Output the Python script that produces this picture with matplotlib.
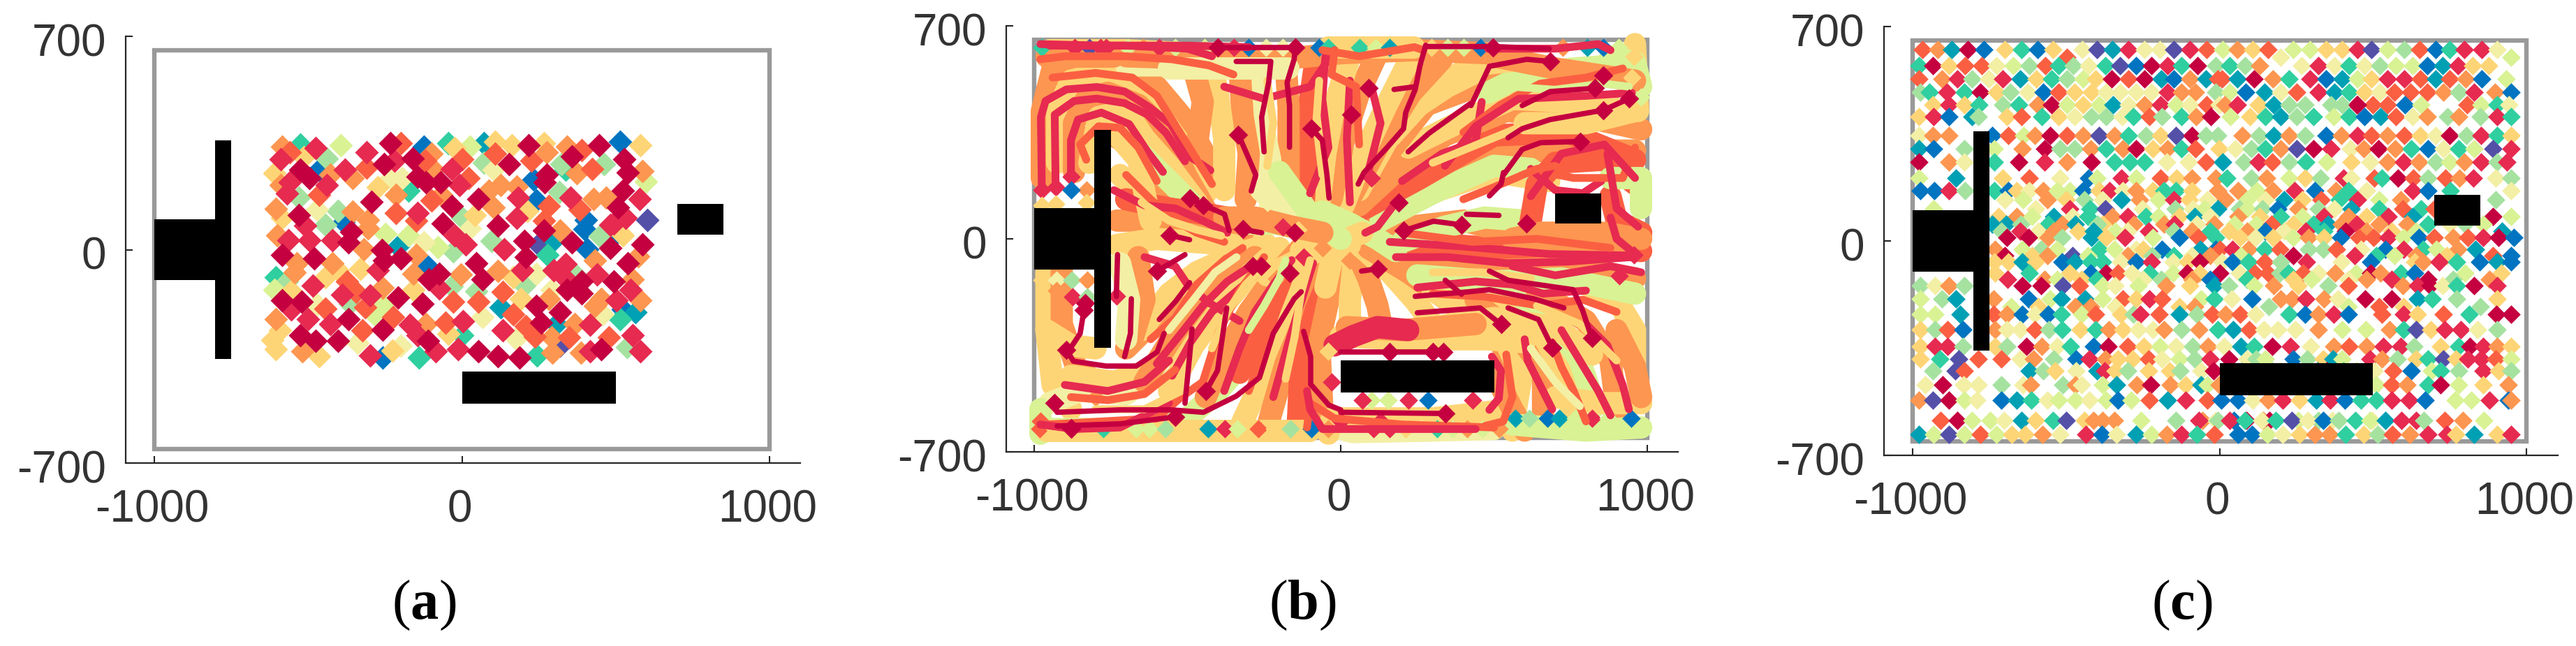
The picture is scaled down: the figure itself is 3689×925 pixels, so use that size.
import matplotlib
matplotlib.use("Agg")
import matplotlib.pyplot as plt
from matplotlib.patches import Rectangle
from matplotlib.transforms import ScaledTranslation

plt.rcParams['font.family'] = ['Liberation Sans', 'DejaVu Sans']
plt.rcParams['axes.unicode_minus'] = False
plt.rcParams['mathtext.fontset'] = 'custom'
plt.rcParams['mathtext.bf'] = 'Liberation Serif:bold'
plt.rcParams['mathtext.rm'] = 'Liberation Serif'

# ---------- data ----------
CLASS_COLORS = {'c': '#c40040', 'r': '#e62a50', 'o': '#fb5f42', 'O': '#fd9650', 'y': '#fed576',
                'l': '#f3efa5', 'g': '#d9f294', 'G': '#a5e2a0', 't': '#2fcfa0', 'b': '#00a0b4',
                'B': '#0074c0', 'p': '#5450a8'}
DRAW_ORDER = "pBbtGglyOorc"
X_TICKS = [-1000, 0, 1000]
Y_TICKS = [-700, 0, 700]
T_STEM = (-1000, -100, 200, 200)
T_BAR = (-803, -358, 53, 716)
BOX = (700, 50, 150, 100)
BAR = (0, -505, 500, 105)
FRAME = (-1000, -655, 2000, 1310)

# panel (a): particles at the initial position (x, y, colour class)
A_POINTS = [
(-584,338,'O'),(-559,319,'o'),(-526,345,'t'),(-476,334,'r'),(-393,342,'g'),(-310,319,'r'),(-232,349,'c'),(-198,349,'o'),(-124,338,'B'),(-99,315,'O'),(-45,349,'t'),(-24,334,'y'),(25,338,'g'),(71,349,'b'),(108,353,'y'),(108,315,'o'),(162,342,'y'),(216,342,'c'),(266,349,'y'),(275,319,'O'),(341,338,'O'),(357,307,'c'),(390,326,'o'),(445,342,'c'),(515,353,'B'),(581,342,'y'),
(-588,296,'r'),(-514,304,'y'),(-464,262,'B'),(-439,300,'G'),(-381,262,'r'),(-310,269,'o'),(-252,281,'c'),(-219,292,'r'),(-161,300,'c'),(-120,292,'o'),(-91,262,'O'),(-33,265,'r'),(1,296,'o'),(71,285,'G'),(104,262,'l'),(154,281,'c'),(225,292,'o'),(275,246,'c'),(324,281,'G'),(337,262,'t'),(374,250,'O'),(424,265,'o'),(461,281,'G'),(527,296,'c'),(540,254,'c'),(586,258,'O'),
(-609,250,'y'),(-526,262,'c'),(-497,235,'c'),(-427,246,'O'),(-356,235,'O'),(-232,235,'l'),(-194,235,'l'),(-144,239,'c'),(-116,220,'c'),(-70,220,'c'),(21,235,'o'),(-8,212,'r'),(125,212,'O'),(179,208,'O'),(233,231,'B'),(270,220,'c'),(598,223,'g'),
(-559,220,'r'),(-439,212,'r'),(-464,181,'o'),(-568,185,'r'),(-588,212,'O'),(-530,170,'G'),(-273,204,'y'),(-215,181,'O'),(-174,193,'t'),(-99,162,'o'),(-33,143,'c'),(-66,181,'O'),(54,166,'c'),(88,193,'O'),(183,170,'r'),(241,162,'B'),(353,170,'r'),(428,166,'O'),(523,193,'c'),(577,166,'r'),(316,189,'G'),
(-605,135,'O'),(-294,158,'c'),(-472,132,'l'),(-402,128,'G'),(-356,124,'O'),(-215,120,'o'),(-144,120,'r'),(-306,97,'O'),(-530,113,'c'),(104,139,'O'),(42,113,'y'),(179,105,'r'),(212,128,'y'),(283,143,'o'),(382,132,'o'),(507,139,'c'),(469,170,'O'),
(-584,105,'y'),(-510,78,'r'),(-443,82,'G'),(-385,90,'B'),(-360,59,'c'),(-369,25,'c'),(-306,71,'O'),(-149,94,'o'),(-62,86,'c'),(-24,48,'r'),(117,78,'c'),(1,105,'G'),(266,94,'o'),(266,63,'c'),(320,63,'O'),(403,97,'B'),(399,67,'B'),(494,86,'r'),(532,105,'r'),(482,82,'r'),(602,97,'p'),
(-563,32,'r'),(-601,48,'O'),(-497,32,'r'),(-422,32,'r'),(-248,52,'g'),(-174,48,'g'),(-124,25,'l'),(-78,9,'g'),(13,17,'r'),(25,71,'l'),(96,29,'G'),(204,29,'c'),(249,17,'p'),(299,32,'b'),(357,25,'c'),(449,44,'G'),(490,40,'B'),(523,48,'y'),(586,17,'c'),
(-584,-17,'c'),(-480,-29,'c'),(-538,-44,'O'),(-422,-44,'O'),(-319,2,'O'),(-261,-2,'c'),(-252,-36,'c'),(-198,-29,'c'),(-207,10,'b'),(-149,-17,'O'),(-28,-6,'G'),(46,-44,'c'),(208,-25,'c'),(137,2,'r'),(278,-17,'t'),(336,-48,'r'),(407,2,'B'),(432,-36,'O'),(482,6,'c'),(539,-44,'c'),(573,-21,'O'),
(-543,-75,'O'),(-402,-67,'y'),(-331,-63,'y'),(-273,-67,'r'),(-157,-78,'O'),(-111,-56,'B'),(-74,-78,'c'),(-107,-97,'c'),(-4,-82,'O'),(117,-71,'O'),(196,-67,'r'),(241,-78,'l'),(299,-67,'r'),(370,-82,'G'),(494,-105,'c'),(440,-82,'r'),(556,-97,'O'),
(-605,-90,'t'),(-568,-105,'G'),(-485,-117,'r'),(-443,-90,'y'),(-373,-105,'o'),(-74,-128,'r'),(-33,-120,'G'),(67,-97,'c'),(167,-90,'y'),(204,-117,'G'),(332,-90,'r'),(390,-105,'c'),(341,-132,'c'),(390,-143,'c'),
(-609,-132,'g'),(-555,-136,'y'),(-389,-147,'r'),(-344,-139,'o'),(-298,-151,'r'),(-257,-124,'O'),(-157,-132,'y'),(-207,-158,'c'),(-128,-178,'c'),(-28,-170,'o'),(46,-136,'G'),(133,-139,'o'),(291,-132,'l'),(191,-162,'y'),(283,-162,'O'),(453,-162,'O'),(548,-132,'r'),(581,-166,'O'),
(-584,-166,'c'),(-522,-170,'c'),(-555,-197,'r'),(-443,-193,'o'),(-364,-178,'G'),(-315,-189,'o'),(-472,-181,'l'),(-257,-181,'g'),(54,-170,'o'),(125,-189,'b'),(241,-185,'c'),(320,-204,'c'),(432,-185,'O'),(502,-166,'r'),(523,-197,'B'),(565,-204,'b'),
(-605,-227,'O'),(-501,-227,'r'),(-427,-243,'r'),(-369,-227,'c'),(-323,-265,'o'),(-286,-212,'g'),(-257,-262,'c'),(-223,-220,'o'),(-169,-246,'r'),(-116,-243,'O'),(-53,-239,'o'),(4,-235,'r'),(67,-220,'l'),(167,-212,'o'),(258,-239,'c'),(208,-250,'o'),(307,-243,'b'),(366,-243,'O'),(416,-246,'r'),(515,-227,'t'),(457,-212,'l'),
(-592,-265,'y'),(-526,-281,'c'),(-476,-300,'c'),(-402,-300,'c'),(-339,-307,'l'),(-617,-296,'y'),(-45,-277,'y'),(-144,-281,'r'),(-111,-300,'c'),(1,-281,'t'),(133,-265,'r'),(175,-292,'l'),(237,-285,'o'),(349,-288,'o'),(478,-288,'o'),(556,-281,'r'),(291,-288,'O'),
(-605,-326,'y'),(-518,-334,'O'),(-464,-349,'y'),(-298,-346,'r'),(-227,-330,'y'),(-198,-315,'l'),(-140,-353,'t'),(-86,-334,'r'),(-12,-326,'r'),(54,-334,'c'),(117,-349,'c'),(187,-353,'c'),(245,-346,'t'),(295,-338,'O'),(320,-315,'p'),(386,-338,'O'),(416,-334,'r'),(453,-326,'c'),(536,-319,'G'),(581,-334,'r'),
(-257,-353,'B')]

# panel (c): particles after the final step, one row per y level
C_ROWS = [
(624, [-968,-917,-872,-821,-768,-699,-645,-593,-542,-447,-400,-349,-297,-244,-195,-149,-96,-43,10,59,108,157,241,294,347,400,450,495,548,601,651,704,749,798,855,905],
      "oObcBytByl"+"prt"[0]+"brllpro"+"gOyogg"+"yyrp"+"gGoBtrrl"),
(600, [-498,199,950], "olg"),
(572, [-980,-933,-882,-829,-775,-726,-673,-620,-567,-525,-476,-427,-373,-324,-273,-222,-169,-123,-71,-13,32,82,131,267,321,374,423,472,522,575,628,677,726,776,825,878], "tcyoolgGotGltpBcrtcGtGOlrltlGggBbryy"),
(530, [-980,-904,-855,-806,-753,-707,-650,-597,-548,-498,-445,-404,-351,-297,-244,-191,-149,-96,-44,-5,9,59,112,173,226,294,347,400,449,495,548,601,654,704,749,802,855,935], "oOrGlrbytGgycocbBOboobcOtrBbgyrroboOBg"),
(485, [-976,-946,-889,-832,-779,-726,-681,-624,-574,-525,-472,-417,-370,-324,-271,-222,-169,-123,-78,-13,32,85,146,199,252,321,374,423,472,522,571,622,677,730,780,830,897,950], "GtrtcyGlBoyyllllrOOGgBblorbtyloooOGrOBOy"),
(445, [-935,-882,-832,-783,-707,-654,-593,-548,-498,-445,-392,-347,-297,-244,-192,-143,-96,-43,-1,17,59,127,176,226,278,362,446,400,500,450,548,604,657,806,852,905,943], "yrytGtOcgygblOrglolOrybGGGcGocoBgogtllcB"),
(405, [-980,-931,-882,-807,-787,-692,-644,-578,-525,-472,-418,-370,-318,-280,-228,-188,-124,-77,-28,35,100,148,199,252,305,372,423,472,524,574,630,677,743,780,850,905,950], "yrBbGyotylGGltoGtOcgytbGtgtBbolOGOGrtG"[:37]),
(345, [-980,-935,-882,-740,-688,-639,-601,-551,-498,-445,-392,-342,-297,-240,-193,-142,-90,-45,-5,74,128,176,226,279,347,396,449,495,548,601,654,704,749,805,852,905,950], "lOOBogOcoOpOtGypcGGOGbOGBOroOoylcGrty"),
(300, [-980,-931,-832,-734,-643,-571,-521,-472,-419,-370,-316,-271,-218,-169,-123,-78,-2,51,104,150,199,252,305,362,426,470,518,572,625,680,730,780,830,890,950], "bBGgOcGGOtOcyOtoylGtOpcrlOcOtBltgprtyt"[:35]),
(258, [-980,-882,-832,-734,-655,-570,-497,-418,-342,-293,-244,-172,-101,-44,11,78,127,172,226,282,350,428,490,548,600,649,704,749,798,852,905,937], "cOltcrOctttllobGroGtgylOrOGgOrGrryo"[:32]),
(205, [-980,-860,-707,-620,-521,-427,-400,-319,-271,-193,-139,-90,-13,25,104,154,226,279,328,404,430,505,528,582,631,680,735,782,826,899,950], "gbyolBgrgoyOOtGOgyGrlotcoGoOrlGlo"[:31]),
(165, [-930,-976,-882,-829,-734,-688,-662,-619,-574,-529,-488,-445,-392,-358,-316,-271,-218,-182,-143,-89,-5,60,121,173,244,310,378,420,480,630,680,753,950], "BBrGtBylOggByrlOyttyO"[:21]+"OgOrBOtlrBtl"),
(135, [-700,-640,-560,-500,-440,-380,-320,-260,-200,-150,-100,-40,20,90,150,210,270,330,390,450,520,590,900], "lgOyGlbOgrylOglbyotrgOG"),
(105, [-931,-600,-489,-422,-373,-252,-145,-88,-48,-5,64,90,139,189,257,322,374,430,520,597,656,700,760], "glrtplGlgbGgGBOGlbtotoG"),
(80, [-720,-660,-610,-540,-480,-430,-350,-300,-240,-200,-130,-80,-30,60,130,200,270,340,420,480,550,630,890,950], "yOgbltOrtgyblOytgrOyrbcg"),
(55, [-740,-694,-647,-558,-513,-470,-382,-398,-278,-180,-146,-73,-18,48,120,170,240,305,353,397,447,520,610,680,750,800,860], "bbGtObyGOOrlOggoytbOrOOtlGg"),
(32, [-710,-650,-590,-540,-460,-410,-340,-300,-230,-150,-90,-30,30,90,150,210,280,340,410,480,560,640,920], "GrlOybglrGOtyOBlrtcOygb"),
(12, [-692,-622,-559,-512,-418,-370,-308,-217,-130,-70,-12,66,117,173,240,290,340,394,455,502,550,600,650,700,760,810,860,910,960], "ccOGbyrgBotylygOyBoorgBoOorcBG"[:29]),
(-28, [-732,-642,-581,-530,-392,-342,-272,-250,-187,-63,-13,0,42,95,147,196,290,337,380,461,540,600,664,706,777,833,875], "OgGgtglyBbBorOtoGGolBrtgOb"[:27]+""),
(-48, [-700,-610,-560,-480,-430,-300,-220,-150,-90,-30,70,240,440,510,570,640,740,890,950], "cyOpgOGtlOgcrtgOyoB"),
(-68, [-733,-688,-642,-600,-512,-472,-420,-382,-322,-272,-222,-152,-103,-64,9,42,95,147,198,284,396,492,635,663,716,772,847,905,950], "yybyBbttlBrlyclBtoGrlByOrtBbB"[:29]),
(-105, [-732,-620,-489,-420,-370,-331,-285,-228,-152,-105,-64,2,64,115,157,197,223,273,322,376,445,492,525,590,636,800,917,980], "ytyBcoltgcycl"[:13]+"ooGtolOgcOtBgy"),
(-125, [-690,-570,-530,-450,-400,-250,-190,-90,-30,90,240,300,420,480,560,680,760,880], "rOgytlGOBtyglOrcGO"),
(-145, [-976,-927,-882,-832,-642,-581,-510,-457,-382,-340,-265,-173,-97,-18,30,112,177,255,353,420,597,646,685,728,773,830,905,951], "GlOGccpoglgOybGgOyGoOrcltcr"[:28]),
(-190, [-976,-905,-860,-736,-622,-551,-515,-438,-380,-316,-272,-228,-188,-61,-17,40,105,200,235,280,340,386,475,562,646,692,773,905,950], "gGbOBgbbgoyrogtlBOOrOlccbtGy"[:29]),
(-215, [-680,-590,-470,-420,-340,-130,-80,160,420,520,600,850], "gyOOlyOGgoyG"),
(-240, [-976,-927,-846,-736,-692,-643,-602,-559,-516,-450,-404,-322,-280,-258,-196,-130,-75,-25,20,66,118,226,279,323,372,419,530,600,645,729,813,902,950], "ggboOBlBtgoyGrobGoOoltBOrBoryotcc"),
(-290, [-976,-927,-887,-836,-732,-692,-650,-601,-557,-514,-455,-404,-360,-314,-265,-218,-180,-123,-68,-6,44,96,144,190,247,322,400,476,555,600,640,688,734,786,840,904,950], "yGoBOlloGtytOyllOGOtbo"+"lllOggOtpyrrlG"),
(-345, [-976,-927,-887,-836,-731,-692,-630,-580,-530,-486,-410,-362,-300,-247,-194,-142,-88,-38,14,70,113,172,232,298,371,422,478,533,590,634,720,780,816,860,905,950], "yrrGyGcOltBcoyg"+"lGOlbtcrlOoOrrGytcrOy"),
(-385, [-976,-911,-850,-785,-710,-650,-606,-540,-468,-424,-373,-331,-283,-230,-188,-130,-80,-30,30,90,120,150,240,285,337,370,400,490,530,580,640,680,730,770,810,852,900,950], "ytpoolOGBrOyyolgGrclGgBGybgrOGytpyrrog"),
(-425, [-935,-862,-832,-620,-575,-535,-468,-400,-375,-340,-300,-230,-162,-128,-60,-20,72,130,172,196,320,350,403,447,505,565,625,690,720,780,860,910,950], "Gp"+"obGylbryGyyGlcGgGlbctgloBgtGryGl"),
(-470, [-960,-902,-833,-785,-710,-640,-615,-510,-470,-450,-380,-335,-270,-225,-160,-110,-60,-40,-1,50,90,130,155,340,400,455,510,560,610,680,720,780,860,940], "lcllGlOGOlgbOcOybgOBgoGolcgoOtcgyO"),
(-520, [-980,-934,-882,-832,-790,-712,-660,-614,-561,-524,-470,-425,-370,-332,-288,-228,-170,-110,-40,6,60,108,157,207,260,315,360,408,461,510,560,618,670,768,820,880,940,950], "OpcglBbtlgglgBgobro"+"BBlOrybrBttrrBggrBO"),
(-585, [-909,-854,-806,-748,-703,-646,-600,-542,-500,-440,-410,-380,-343,-256,-143,-55,-13,47,88,143,163,257,322,368,497,-68,-5,34,82,137,184,236,288,337,387,442,490,540,593,640,665,734,792,862,908,947], "ocgglbytpyOOOgGOlBcOc"+"gGll"+"rGrtltplBGtgbrrGoOg"),
(-632, [-980,-931,-882,-832,-780,-728,-676,-634,-576,-521,-436,-383,-335,-271,-222,-172,-123,-75,-16,60,105,156,207,260,310,358,410,470,515,564,620,680,740,770,830,905,949], "bgpgogyyOlrBlbgOrtoBBglyOO"+"tyGoOrryb"+"yrr"),
]

# panel (b): wide background bands, then mid and thin trajectories, then end markers
B_WIDE = [
('O',[-975,-975,-940,-800,-700,-600,-500,-400],[200,420,560,600,570,500,380,200]),
('y',[-925,-925,-880,-780,-680,-600,-520,-440],[250,420,520,545,500,420,310,150]),
('O',[-870,-870,-830,-760,-660,-580,-500,-420],[220,380,460,480,440,360,200,60]),
('y',[-820,-790,-700,-640,-560,-470],[250,400,420,330,240,120]),
('O',[-740,-680,-620,-560,-480,-400],[340,300,220,120,60,20]),
('g',[-650,-560,-480,-370],[280,190,110,40]),
('y',[-720,-630,-520,-400,-300],[210,120,80,60,30]),
('O',[-730,-600,-440,-320],[60,60,40,20]),
('y',[-730,-600,-480,-350],[-20,0,-10,-20]),
('o',[-700,-560,-430,-260],[130,100,80,50]),
('y',[-960,-960,-940,-880],[-110,-300,-480,-560]),
('O',[-910,-910,-860,-760],[-100,-280,-430,-490]),
('l',[-950,-850,-700,-600],[-540,-500,-510,-440]),
('y',[-880,-740,-620,-500,-420],[-450,-470,-430,-300,-180]),
('O',[-700,-600,-500,-380,-300],[-360,-260,-180,-110,-50]),
('y',[-650,-560,-470,-340,-240],[-300,-180,-110,-50,-20]),
('O',[-640,-560,-480,-380,-280],[-470,-340,-230,-130,-60]),
('g',[-950,-700,-500,-400,-330],[-625,-625,-590,-500,-420]),
('y',[-560,-480,-400,-300,-200],[-500,-350,-240,-120,-30]),
('O',[-440,-380,-300,-220,-130],[-520,-380,-240,-130,-30]),
('o',[-330,-260,-200,-130],[-440,-300,-180,-70]),
('y',[-320,-240,-150,-70],[-600,-430,-200,-40]),
('O',[-240,-180,-100,-40],[-620,-410,-220,-60]),
('o',[-140,-130,-80,-20],[-610,-400,-230,-90]),
('O',[-60,-70,-40,0],[-560,-340,-200,-80]),
('y',[30,30,40,50],[-300,-200,-100,-20]),
('O',[140,120,90,50],[-320,-220,-130,-40]),
('y',[330,240,160,60],[-320,-200,-110,-20]),
('O',[560,500,360,220,90],[-420,-300,-210,-110,-30]),
('y',[560,590,520,400,300],[-630,-450,-300,-230,-170]),
('O',[660,660,560,440],[-600,-430,-290,-200]),
('y',[760,720,640,520],[-590,-430,-280,-180]),
('g',[830,780,700,600],[-550,-400,-280,-200]),
('O',[900,880,800,640],[-560,-400,-270,-170]),
('y',[960,960,900,760,620],[-420,-300,-200,-130,-90]),
('y',[300,500,700,820],[-290,-260,-290,-380]),
('l',[0,40,300,500],[-625,-635,-630,-625]),
('O',[200,500,700,960],[-90,-80,-80,-130]),
('g',[250,500,720,960],[-120,-140,-130,-180]),
('o',[200,500,760,980],[-10,-30,-20,-40]),
('O',[140,400,660,900,980],[30,60,-10,-30,20]),
('y',[140,320,500,680],[80,160,220,190]),
('O',[110,300,480,660,960],[70,180,270,290,290]),
('g',[130,300,500,620],[60,150,240,230]),
('o',[60,260,500,740,960],[90,200,340,350,260]),
('O',[60,200,340,540,800,980],[110,240,340,420,400,360]),
('y',[220,400,560,760,880],[300,390,460,450,440]),
('O',[40,170,280,440,620,900],[120,300,440,500,520,560]),
('g',[480,600,760,900],[480,540,560,570]),
('y',[60,160,280,430,600],[160,340,480,570,590]),
('O',[40,130,230,330],[150,320,480,590]),
('y',[10,80,150,230],[110,290,440,600]),
('O',[-30,10,60,120],[130,320,480,610]),
('y',[-70,-50,-20,30],[110,280,440,600]),
('o',[-120,-110,-100,-80],[130,300,460,600]),
('O',[-170,-170,-170,-180],[120,300,430,590]),
('l',[-230,-230,-260,-280],[100,260,400,570]),
('O',[-310,-300,-320,-330],[130,280,400,560]),
('y',[-380,-380,-400,-420],[160,330,470,580]),
('O',[-470,-450,-480],[300,450,560]),
('l',[-700,-560,-450,-350],[570,570,560,560]),
('l',[-260,-160,-60,20],[160,70,20,-30]),
('g',[-310,-210,-120,-30],[50,50,30,0]),
('y',[-240,-140,-50,20],[-120,-70,-30,10]),
('g',[-60,30,120,180],[90,50,0,-40]),
('y',[-50,-30,30],[-160,-70,-20]),
('y',[-130,-50,0,70],[-40,-20,-10,20]),
('g',[200,340,470,600],[-10,40,70,60]),
('o',[880,900,980],[140,60,20]),
('y',[960,970],[640,420]),
('g',[880,960,980],[600,580,500]),
('g',[-980,-980],[-640,-560]),
('y',[-960,-650,-300,-100],[-630,-630,-630,-630]),
('y',[-40,-30,30,300,560],[-640,-590,-590,-590,-560]),
('y',[-950,-700,-500,-380],[620,620,610,600]),
('O',[-700,-400,-200,0,240,480],[600,590,590,610,620,610]),
('y',[-40,120,240],[630,630,630]),
('o',[620,640,700,860,960],[60,180,250,260,180]),
('O',[560,650,860,980],[0,20,20,0]),
('g',[880,980,980],[200,200,100]),
('y',[600,800,960],[380,380,420]),
('O',[500,700,960],[600,560,520]),
('y',[-720,-660,-640,-620],[330,260,150,60]),
('O',[-660,-640,-680],[-60,-200,-330]),
('l',[-720,-690,-700],[-80,-200,-330]),
('O',[-960,-860,-740],[600,600,600]),
('y',[-960,-880,-800],[-300,-350,-360]),
('y',[0,200,480,600],[-320,-330,-330,-340]),
('O',[20,200,440],[-290,-300,-280]),
('r',[-20,40,120,220],[-350,-320,-290,-300]),
('O',[500,560,600],[-440,-560,-630]),
('g',[560,800,980],[-610,-630,-620]),
('y',[700,850,980],[-520,-540,-540]),
('O',[900,960,980],[-300,-420,-520]),
('g',[-200,-100,0],[220,80,0]),
('l',[-560,-420,-300,-170],[560,560,560,560]),
('O',[-380,-280,-160,-60],[70,70,40,20]),
]
B_MID = [
('r',[-975,-978,-963,-895,-796,-705,-622,-554,-493,-425],[156,400,453,491,499,484,431,377,271,225]),
('r',[-930,-933,-870,-796,-705,-630,-569,-508],[175,408,453,461,446,408,347,255]),
('r',[-880,-880,-857,-781,-690,-630,-580],[210,324,392,415,377,286,220]),
('o',[-830,-850,-790,-720,-660,-600],[260,310,370,365,300,190]),
('o',[-700,-620,-540,-470,-380],[210,130,60,20,-10]),
('r',[-740,-640,-540,-450,-370],[160,110,100,60,20]),
('o',[-980,-900,-700,-550,-430,-350],[590,600,600,590,570,540]),
('r',[-950,-700,-500,-420],[635,635,625,600]),
('o',[-940,-800,-680,-600,-500,-420],[530,545,530,470,310,180]),
('r',[-640,-540,-500,-430,-330],[-60,-90,-150,-210,-270]),
('o',[-620,-540,-470,-380,-320],[-330,-260,-150,-70,-30]),
('r',[-600,-520,-450,-370,-310],[-410,-310,-220,-140,-100]),
('r',[-550,-490,-420,-350,-280],[-450,-340,-240,-180,-120]),
('o',[-450,-400,-330,-250],[-470,-310,-170,-60]),
('r',[-380,-330,-280,-220,-160],[-500,-360,-240,-150,-70]),
('o',[-300,-250,-210,-160],[-500,-360,-240,-110]),
('r',[-220,-170,-130,-90],[-520,-340,-210,-80]),
('o',[-950,-780,-600,-520,-450],[-610,-600,-590,-520,-470]),
('r',[-980,-870,-720,-560],[-610,-625,-620,-540]),
('r',[-900,-760,-640,-560],[-480,-500,-470,-400]),
('o',[-880,-760,-640,-540],[-520,-530,-510,-430]),
('o',[-110,-100,-20,200,500],[-620,-540,-590,-610,-620]),
('r',[-110,-100,-60,180,440],[-500,-560,-625,-625,-625]),
('r',[493,523,516,485],[-387,-433,-524,-562]),
('o',[540,560,530,470],[-380,-520,-600,-615]),
('r',[600,610,660,690],[-330,-400,-500,-560]),
('o',[690,720,760,800],[-340,-420,-500,-600]),
('r',[720,780,840,880],[-300,-400,-500,-580]),
('r',[800,870,920,940],[-280,-350,-480,-560]),
('r',[250,440,560,660,800],[-160,-140,-150,-180,-170]),
('o',[300,470,650,790,900],[-180,-190,-220,-200,-240]),
('r',[180,350,540,740,950],[-60,-60,-80,-75,-60]),
('r',[160,400,680,960],[-10,-25,-50,-55]),
('o',[200,430,640,880],[20,-10,0,-30]),
('r',[560,700,880,980],[-90,-120,-90,-110]),
('r',[620,700,790,850],[230,160,150,190]),
('o',[660,760,920,960],[220,200,200,300]),
('r',[620,720,860,960],[140,280,310,200]),
('r',[870,900,970],[280,100,40]),
('r',[880,900,960],[70,0,-50]),
('o',[400,500,640,700],[130,170,230,240]),
('r',[-380,-250,-100,-20],[500,460,500,620]),
('r',[-100,-40,-60,-50],[150,300,460,600]),
('r',[30,20,30],[120,330,520]),
('o',[-20,-30,50,60],[620,540,500,310]),
('r',[100,130,90],[500,380,220]),
('r',[180,120,80],[120,40,20]),
('r',[200,330,440,460],[190,280,320,450]),
('o',[400,520,650,800,920],[350,440,510,530,560]),
('r',[340,440,580,800,950],[240,370,460,470,480]),
('r',[-980,-780,-500,-300],[640,635,635,630]),
('o',[-60,60,240,270],[620,600,630,620]),
('r',[480,700,840,880],[625,625,640,620]),
('y',[-650,-560,-470,-390],[120,60,30,10]),
('l',[-560,-480,-410,-340],[-300,-200,-110,-60]),
('y',[-420,-370,-310,-250],[-360,-240,-150,-90]),
('g',[-300,-250,-200,-180],[-300,-220,-130,-70]),
('y',[-180,-150,-130,-100],[-460,-320,-180,-70]),
('y',[-240,-220,-240],[520,380,240]),
('y',[-70,-80,-60],[520,380,210]),
('y',[180,270,360,460],[320,420,480,530]),
('y',[300,470,640,800],[250,320,390,380]),
('g',[560,700,860,940],[500,490,510,500]),
('y',[640,780,900],[-220,-280,-400]),
('y',[300,460,620],[-110,-110,-130]),
('l',[620,700,780],[-360,-470,-550]),
('y',[-800,-640,-520],[-560,-560,-500]),
]
B_THIN = [
([-402,-243,-160],[628,628,628]),
([277,497,680],[632,632,625]),
([-341,-228,-235,-258,-250],[583,583,514,400,286]),
([-148,-152,-175,-167,-167],[628,590,514,438,301]),
([-95,-60,-45,-38],[362,324,210,134]),
([-334,-303,-277,-292],[343,271,210,157]),
([-493,-448,-379,-364],[134,111,81,27]),
([-558,-493],[12,-3]),
([-319,-258],[31,20]),
([277,258,243,212,205,152,76,57],[636,567,491,415,362,301,218,180]),
([425,485,607,683],[438,567,590,583]),
([425,288,220],[446,347,286]),
([531,592,652,781],[210,294,316,320]),
([546,592,683,857],[332,362,392,423]),
([485,523,531],[141,180,218]),
([592,683,830],[438,484,495]),
([857,941],[423,461]),
([174,235],[491,499]),
([205,303,394],[27,58,46]),
([410,516],[81,77]),
([-895,-872,-766,-667,-599,-576],[-364,-402,-418,-418,-372,-311]),
([-592,-538,-493],[-265,-205,-144]),
([-834,-850,-880],[-212,-311,-357]),
([-732,-728],[-189,-52]),
([-933,-925,-720,-554,-448,-341,-265,-220,-152,-129],[-539,-570,-562,-562,-570,-517,-456,-311,-197,-174]),
([-925,-720,-539],[-615,-608,-585]),
([-683,-686,-705],[-197,-311,-387]),
([-440,-402,-372],[-501,-433,-227]),
([-485,-493,-508],[-296,-387,-540]),
([-599,-508],[-106,-52]),
([-121,-98,-98,-38,0],[-304,-387,-478,-547,-562]),
([0,341],[-570,-574]),
([0,334],[-372,-372]),
([250,455,523],[-243,-227,-281]),
([243,417,485,630,728],[-189,-174,-167,-197,-227]),
([485,546,758,789,819],[-106,-136,-167,-235,-326]),
([546,645,690],[-227,-265,-357]),
([68,121],[-106,-98]),
([341,394],[-136,-182]),
]
# end markers of long trajectories and markers left on the free border (x, y, colour class)
B_MARKERS = [
(-975,628,'t'),(-869,628,'r'),(-819,628,'p'),(-766,628,'r'),(-694,628,'g'),(-645,628,'O'),(-592,628,'r'),(-539,628,'g'),(-444,628,'g'),(-784,628,'r'),(-349,628,'r'),(-300,628,'B'),(-244,628,'l'),(-190,628,'l'),(-71,628,'B'),(-42,628,'t'),
(61,628,'t'),(114,628,'g'),(159,628,'b'),(247,628,'y'),(296,628,'y'),(349,628,'g'),(402,628,'g'),(455,628,'B'),(725,628,'O'),(804,628,'b'),(857,628,'B'),(906,628,'g'),(957,600,'y'),(950,530,'y'),(980,465,'g'),
(-982,-625,'o'),(-933,-625,'y'),(-880,-625,'c'),(-827,-625,'y'),(-774,-625,'t'),(-720,-625,'y'),(-667,-625,'g'),(-625,-625,'g'),(-572,-625,'G'),(-520,-625,'y'),(-432,-625,'b'),(-379,-625,'r'),(-337,-625,'g'),(-269,-625,'o'),(-216,-625,'y'),(-163,-625,'G'),(-95,-625,'B'),(-42,-625,'O'),
(106,-625,'r'),(159,-625,'r'),(212,-625,'y'),(262,-625,'l'),(315,-625,'t'),(364,-625,'g'),(413,-625,'O'),(463,-625,'g'),(516,-625,'O'),(569,-590,'b'),(614,-590,'G'),(675,-590,'B'),(713,-590,'b'),(766,-590,'g'),(819,-590,'r'),(872,-590,'g'),(948,-590,'B'),
(-975,160,'r'),(-930,170,'r'),(-880,205,'r'),(-830,160,'O'),(-975,110,'y'),(-930,115,'y'),(-880,160,'B'),(-830,120,'y'),
(-975,-135,'y'),(-927,-135,'l'),(-877,-135,'G'),(-828,-135,'O'),(-928,-170,'O'),(-875,-190,'r'),(-828,-190,'G'),(-838,-235,'c'),
(-402,628,'c'),(-148,628,'c'),(497,628,'c'),(683,583,'c'),(781,320,'c'),(857,423,'c'),(830,495,'c'),(941,461,'c'),(857,537,'c'),(91,495,'c'),(34,408,'c'),(190,119,'c'),(205,27,'c'),(394,46,'c'),(607,50,'c'),
(-334,343,'c'),(-95,362,'c'),(-493,134,'c'),(-448,111,'c'),(-558,12,'c'),(-319,31,'c'),(-732,-189,'r'),(-834,-212,'c'),(-895,-364,'c'),(-933,-539,'c'),(-880,-623,'c'),(-599,-106,'c'),(-440,-501,'c'),(-288,-90,'c'),(-167,-113,'c'),(-539,-585,'c'),
(341,-574,'c'),(160,-372,'c'),(300,-372,'c'),(334,-372,'c'),(523,-281,'c'),(819,-326,'c'),(690,-357,'c'),(121,-98,'c'),(956,-52,'r'),(910,-121,'r'),(-980,-600,'o'),(-800,-520,'O'),
(0,-600,'r'),(130,-600,'r'),(-30,-470,'r'),(30,-470,'l'),
(-240,120,'l'),(-140,30,'y'),(-60,-30,'O'),(30,-70,'O'),(-40,-370,'y'),(-380,-80,'O'),(-210,-130,'O'),(-120,-60,'r'),(-260,-90,'c'),(100,200,'r'),(-150,20,'c'),(-190,40,'r'),
(430,-530,'r'),(220,-530,'r'),(100,-530,'g'),(285,-530,'B'),(70,-530,'r'),(155,-530,'g'),
]

PANELS = [
    {'left': 180, 'right': 1146, 'top': 52, 'bottom': 663, 'x0': 221, 'x1': 1102, 'label': r'($\mathbf{a}$)', 'lx': 607},
    {'left': 1441, 'right': 2403, 'top': 37, 'bottom': 647, 'x0': 1481, 'x1': 2359, 'label': r'($\mathbf{b}$)', 'lx': 1865},
    {'left': 2698, 'right': 3663, 'top': 38, 'bottom': 652, 'x0': 2739, 'x1': 3618, 'label': r'($\mathbf{c}$)', 'lx': 3125},
]

W, H = 3689, 925
fig = plt.figure(figsize=(W / 100, H / 100), dpi=100)


def make_axes(p):
    ax = fig.add_axes([p['left'] / W, 1 - p['bottom'] / H, (p['right'] - p['left']) / W, (p['bottom'] - p['top']) / H])
    sc = (p['x1'] - p['x0']) / 2000
    ax.set_xlim(-1000 - (p['x0'] - p['left']) / sc, 1000 + (p['right'] - p['x1']) / sc)
    ax.set_ylim(-700, 700)
    ax.spines[['top', 'right']].set_visible(False)
    ax.spines[['left', 'bottom']].set_linewidth(1.6)
    ax.spines[['left', 'bottom']].set_color('#262626')
    ax.set_xticks(X_TICKS)
    ax.set_yticks(Y_TICKS)
    ax.tick_params(direction='in', length=7.5, width=1.5, color='#262626', labelcolor='#333333', labelsize=46)
    ax.tick_params(axis='x', pad=27)
    ax.tick_params(axis='y', pad=20)
    off = ScaledTranslation(0, -5 / 100, fig.dpi_scale_trans)
    for lab in ax.get_yticklabels():
        lab.set_transform(lab.get_transform() + off)
    off = ScaledTranslation(-3 / 100, 0, fig.dpi_scale_trans)
    for lab in ax.get_xticklabels():
        lab.set_transform(lab.get_transform() + off)
    ax.add_patch(Rectangle(FRAME[:2], FRAME[2], FRAME[3], fill=False, ec='#999999', lw=4.6, zorder=1))
    for r in (T_STEM, T_BAR, BOX, BAR):
        ax.add_patch(Rectangle(r[:2], r[2], r[3], fc='black', ec='none', zorder=20))
    fig.text(p['lx'] / W, 1 - 867 / H, p['label'], ha='center', va='center', fontsize=58,
             family='Liberation Serif', color='black')
    return ax


axes = [make_axes(p) for p in PANELS]

# (a)
for k in DRAW_ORDER:
    pts = [q for q in A_POINTS if q[2] == k]
    axes[0].scatter([q[0] for q in pts], [q[1] for q in pts], s=300, marker='D', c=CLASS_COLORS[k],
                    linewidths=0, zorder=3 + DRAW_ORDER.index(k) * 0.1)

# (b)
ax = axes[1]
for k, xs, ys in B_WIDE:
    ax.plot(xs, ys, color=CLASS_COLORS[k], lw=23, solid_capstyle='round', solid_joinstyle='round', zorder=2)
for q in B_MARKERS:
    if q[2] != 'c':
        ax.scatter(q[0], q[1], s=180, marker='D', c=CLASS_COLORS[q[2]], linewidths=0, zorder=2.5)
for k, xs, ys in B_MID:
    ax.plot(xs, ys, color=CLASS_COLORS[k], lw=8, solid_capstyle='round', solid_joinstyle='round', zorder=3)
for xs, ys in B_THIN:
    ax.plot(xs, ys, color=CLASS_COLORS['c'], lw=5.5, solid_capstyle='round', solid_joinstyle='round', zorder=4)
for q in B_MARKERS:
    if q[2] == 'c':
        ax.scatter(q[0], q[1], s=200, marker='D', c=CLASS_COLORS['c'], linewidths=0, zorder=5)

# (c)
ax = axes[2]
for y, xs, codes in C_ROWS:
    for x, k in zip(xs, codes):
        ax.scatter(x, y, s=185, marker='D', c=CLASS_COLORS[k], linewidths=0, zorder=3)

fig.savefig('out.png', dpi=100)
